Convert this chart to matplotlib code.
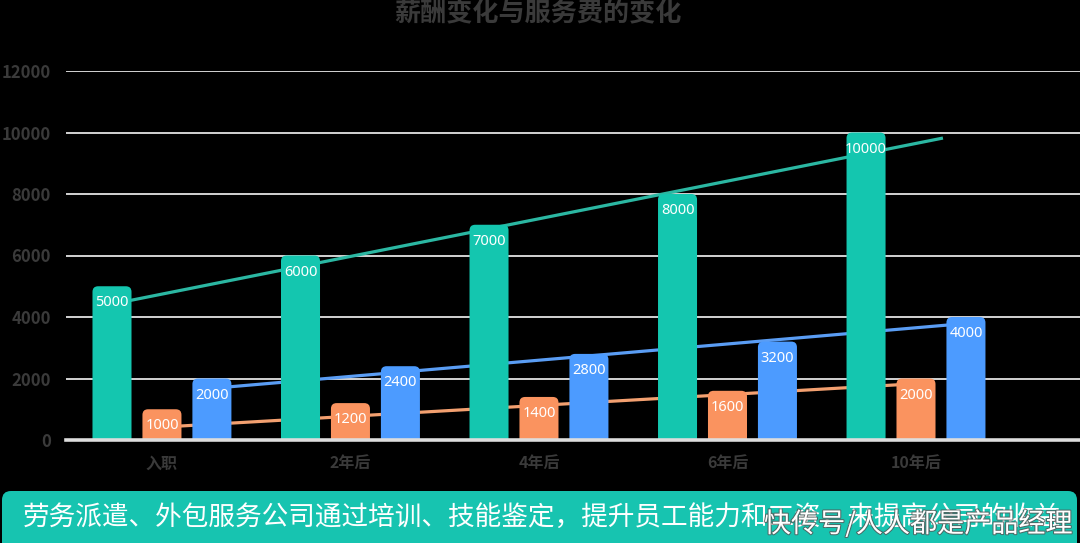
import numpy as np
import matplotlib
matplotlib.use("Agg")
import matplotlib.pyplot as plt
from matplotlib.patches import FancyBboxPatch
import matplotlib.patheffects as pe

plt.rcParams['font.family'] = ['Noto Sans CJK SC', 'DejaVu Sans']

# 数据
categories = ['入职', '2年后', '4年后', '6年后', '10年后']
salary = [5000, 6000, 7000, 8000, 10000]
fee_low = [1000, 1200, 1400, 1600, 2000]
fee_high = [2000, 2400, 2800, 3200, 4000]
# 趋势线（读图得到的起点/终点数值）
salary_trend = [4420, 9820]
fee_low_trend = [420, 1830]
fee_high_trend = [1680, 3790]

title = '薪酬变化与服务费的变化'
banner_text = '劳务派遣、外包服务公司通过培训、技能鉴定，提升员工能力和工资，来提高公司的收益'
watermark = '快传号/人人都是产品经理'

teal = '#14c6af'
orange = '#fa935f'
blue = '#4c9bff'

W, H = 1080, 543
fig = plt.figure(figsize=(W / 100, H / 100), dpi=100)
fig.patch.set_facecolor('black')

left, bottom = 66 / W, 1 - 440 / H
width, height = 1 - left, (440 - 71) / H
ax = fig.add_axes([left, bottom, width, height])
ax.set_facecolor('black')

x = np.arange(len(categories))
off = 0.265
bw = 0.207
xmin, xmax = -0.509, 4.870
ax.set_xlim(xmin, xmax)
ax.set_ylim(0, 12000)

# 网格
for yv in range(2000, 12001, 2000):
    ax.axhline(yv, color='#e4e4e4', lw=1.3, zorder=0)
ax.axhline(0, color='#dddddd', lw=2.6, zorder=5, clip_on=False)

# 趋势线
ax.plot([x[0] - off, x[-1] + 0.143], salary_trend, color='#2bb7a2', lw=2.3, zorder=2,
        solid_capstyle='butt')
ax.plot([x[0], x[-1]], fee_low_trend, color='#f3a070', lw=2.3, zorder=2)
ax.plot([x[0] + off, x[-1] + off], fee_high_trend, color='#5a9df4', lw=2.3, zorder=2)

# 圆角柱子
ax_w_px = width * W
ax_h_px = height * H
asp = (12000 / ax_h_px) / ((xmax - xmin) / ax_w_px)

for vals, dx, col in [(salary, -off, teal), (fee_low, 0, orange), (fee_high, off, blue)]:
    bars = ax.bar(x + dx, vals, bw, color=col, zorder=3)
    for b, v in zip(bars, vals):
        bx, by, bwid, bh = b.get_x(), b.get_y(), b.get_width(), b.get_height()
        b.remove()
        p = FancyBboxPatch((bx, by - 600), bwid, bh + 600,
                           boxstyle='round,pad=0,rounding_size=0.03',
                           mutation_aspect=asp, facecolor=col, edgecolor='none', zorder=3)
        ax.add_patch(p)
        ax.annotate(str(v), (bx + bwid / 2, v), xytext=(0, -12), textcoords='offset points',
                    ha='center', va='center', color='white', fontsize=10.5, zorder=6,
                    family=['Noto Sans', 'DejaVu Sans'])

for s in ax.spines.values():
    s.set_visible(False)
ax.set_yticks(range(0, 12001, 2000))
ax.set_yticklabels([str(v) for v in range(0, 12001, 2000)])
ax.set_xticks(x)
ax.set_xticklabels(categories)
ax.tick_params(axis='y', length=0, pad=11, labelsize=12, labelcolor='#3a3a3a')
ax.tick_params(axis='x', length=0, pad=11, labelsize=11.5, labelcolor='#3a3a3a')
for t in ax.get_yticklabels() + ax.get_xticklabels():
    t.set_fontweight('bold')

fig.text(538 / W, 1 - 14 / H, title, ha='center', va='center', fontsize=18.8,
         fontweight='bold', color='#3a3a3a')

# 底部横幅
ov = fig.add_axes([0, 0, 1, 1], zorder=10)
ov.set_xlim(0, W)
ov.set_ylim(H, 0)
ov.axis('off')
ov.patch.set_alpha(0)
ov.add_patch(FancyBboxPatch((2, 491), 1075, 80, boxstyle='round,pad=0,rounding_size=9',
                            facecolor='#17c4b0', edgecolor='none'))
ov.text(23, 517, banner_text, ha='left', va='center', color='white', fontsize=19.2)
ov.text(1073, 524, watermark, ha='right', va='center', color='white', fontsize=19.5,
        path_effects=[pe.withStroke(linewidth=1.5, foreground='#555555', alpha=0.8)])

fig.savefig('out.png', dpi=100, facecolor='black')
